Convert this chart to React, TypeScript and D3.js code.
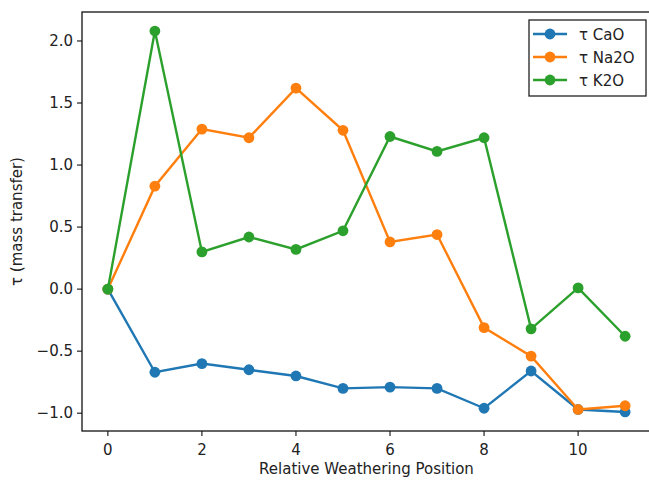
import React from "react";
import * as d3 from "d3";

const positions = [0, 1, 2, 3, 4, 5, 6, 7, 8, 9, 10, 11];
const tauCaO = [0, -0.67, -0.6, -0.65, -0.7, -0.8, -0.79, -0.8, -0.96, -0.66, -0.97, -0.99];
const tauNa2O = [0, 0.83, 1.29, 1.22, 1.62, 1.28, 0.38, 0.44, -0.31, -0.54, -0.97, -0.94];
const tauK2O = [0, 2.08, 0.3, 0.42, 0.32, 0.47, 1.23, 1.11, 1.22, -0.32, 0.01, -0.38];
const seriesNames = ["τ CaO", "τ Na2O", "τ K2O"];
const seriesColors = ["#1f77b4", "#ff7f0e", "#2ca02c"];
const xTicks = [0, 2, 4, 6, 8, 10];
const yTicks = [-1.0, -0.5, 0.0, 0.5, 1.0, 1.5, 2.0];

const W = 649;
const H = 481;
const left = 82;
const right = 651;
const top = 12;
const bottom = 431;

export default function App() {
  const x = d3.scaleLinear().domain([-0.55, 11.55]).range([left, right]);
  const y = d3.scaleLinear().domain([-1.1435, 2.2335]).range([bottom, top]);
  const line = d3
    .line<[number, number]>()
    .x((d) => x(d[0]))
    .y((d) => y(d[1]));
  const allSeries = [tauCaO, tauNa2O, tauK2O];
  const font = "DejaVu Sans, sans-serif";
  const fs = 15;

  return (
    <svg
      width={W}
      height={H}
      style={{ position: "absolute", left: 0, top: 0, background: "#fff" }}
      fontFamily={font}
    >
      <rect x={0} y={0} width={W} height={H} fill="#fff" />
      {allSeries.map((vals, si) => {
        const pts: [number, number][] = positions.map((p, i) => [p, vals[i]]);
        return (
          <g key={si}>
            <path d={line(pts) || ""} fill="none" stroke={seriesColors[si]} strokeWidth={2.4} />
            {pts.map((d, i) => (
              <circle key={i} cx={x(d[0])} cy={y(d[1])} r={5.4} fill={seriesColors[si]} />
            ))}
          </g>
        );
      })}
      {/* axes frame */}
      <rect x={left} y={top} width={right - left} height={bottom - top} fill="none" stroke="#111" strokeWidth={1.3} />
      {/* x ticks */}
      {xTicks.map((t) => (
        <g key={t}>
          <line x1={x(t)} x2={x(t)} y1={bottom} y2={bottom + 5} stroke="#111" strokeWidth={1.1} />
          <text x={x(t)} y={bottom + 24} textAnchor="middle" fontSize={fs} fill="#222">
            {t}
          </text>
        </g>
      ))}
      {/* y ticks */}
      {yTicks.map((t) => (
        <g key={t}>
          <line x1={left - 5} x2={left} y1={y(t)} y2={y(t)} stroke="#111" strokeWidth={1.1} />
          <text x={left - 9} y={y(t) + 5.2} textAnchor="end" fontSize={fs} fill="#222">
            {t < 0 ? "\u2212" + Math.abs(t).toFixed(1) : t.toFixed(1)}
          </text>
        </g>
      ))}
      <text x={(left + right) / 2 + 0} y={474} textAnchor="middle" fontSize={fs} fill="#222">
        Relative Weathering Position
      </text>
      <text
        transform={`translate(22, ${(top + bottom) / 2}) rotate(-90)`}
        textAnchor="middle"
        fontSize={fs}
        fill="#222"
      >
        τ (mass transfer)
      </text>
      {/* legend */}
      <rect x={529} y={20} width={117} height={76} fill="#fff" stroke="#222" strokeWidth={1.3} />
      {seriesNames.map((n, i) => {
        const ly = 34 + i * 23;
        return (
          <g key={n}>
            <line x1={533} x2={567} y1={ly} y2={ly} stroke={seriesColors[i]} strokeWidth={2.4} />
            <circle cx={550} cy={ly} r={5.4} fill={seriesColors[i]} />
            <text x={579} y={ly + 5.5} fontSize={fs} fill="#222">
              {n}
            </text>
          </g>
        );
      })}
    </svg>
  );
}
